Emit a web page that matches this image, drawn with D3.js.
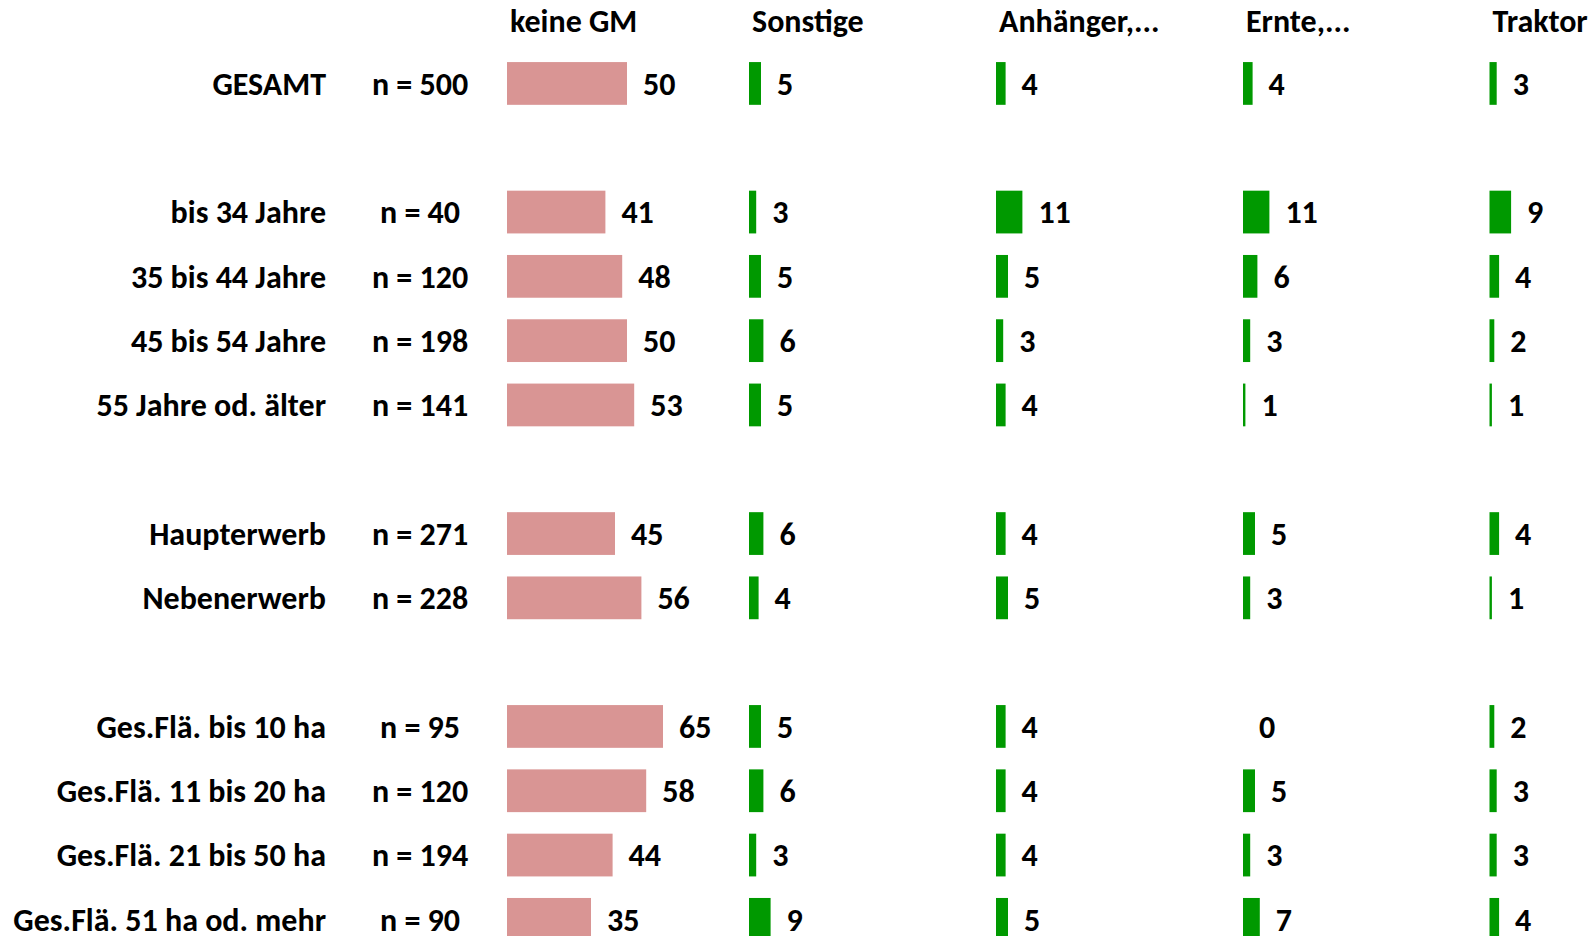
<!DOCTYPE html>
<html>
<head>
<meta charset="utf-8">
<script src="https://cdn.jsdelivr.net/npm/d3@7"></script>
<style>
  body { margin: 0; background: #fff; }
  svg text { font-family: Carlito, "Liberation Sans Narrow", "Open Sans", sans-serif; font-weight: bold; fill: #000; }
</style>
</head>
<body>
<svg id="chart"></svg>
<script>
// rows, sample sizes and the group each row belongs to (a blank row sits between groups)
const categories = ["GESAMT", "bis 34 Jahre", "35 bis 44 Jahre", "45 bis 54 Jahre", "55 Jahre od. älter",
  "Haupterwerb", "Nebenerwerb",
  "Ges.Flä. bis 10 ha", "Ges.Flä. 11 bis 20 ha", "Ges.Flä. 21 bis 50 ha", "Ges.Flä. 51 ha od. mehr"];
const sampleSizes = [500, 40, 120, 198, 141, 271, 228, 95, 120, 194, 90];
const groups = [0, 1, 1, 1, 1, 2, 2, 3, 3, 3, 3];

const seriesNames = ["keine GM", "Sonstige", "Anhänger,...", "Ernte,...", "Traktor"];
const keineGM  = [50, 41, 48, 50, 53, 45, 56, 65, 58, 44, 35];
const sonstige = [5, 3, 5, 6, 5, 6, 4, 5, 6, 3, 9];
const anhaenger = [4, 11, 5, 3, 4, 4, 5, 4, 4, 4, 5];
const ernte    = [4, 11, 6, 3, 1, 5, 3, 0, 5, 3, 7];
const traktor  = [3, 9, 4, 2, 1, 4, 1, 2, 3, 3, 4];
const seriesValues = [keineGM, sonstige, anhaenger, ernte, traktor];
const seriesColors = ["#d99594", "#009900", "#009900", "#009900", "#009900"];

const W = 1594, H = 936;
const svg = d3.select("#chart").attr("width", W).attr("height", H);

const slots = categories.map((c, i) => i + groups[i]);

const y = d3.scaleBand()
  .domain(d3.range(-1, 14))
  .range([-13, -13 + 15 * 64.3])
  .paddingInner(0.335)
  .paddingOuter(0.1675);

const colX = d3.scaleOrdinal()
  .domain(seriesNames)
  .range([507, 749, 996, 1243, 1489.5]);

const w = d3.scaleLinear().domain([0, 100]).range([0, 240]);

const fs = 32;
const mid = s => y(s) + y.bandwidth() / 2;

// column headers
svg.selectAll("text.header")
  .data(seriesNames)
  .join("text")
  .attr("class", "header")
  .attr("x", d => colX(d) + 3)
  .attr("y", mid(-1) + 2)
  .attr("dy", "0.35em")
  .style("font-size", fs + "px")
  .text(d => d);

// row labels
svg.selectAll("text.cat")
  .data(categories)
  .join("text")
  .attr("class", "cat")
  .attr("x", 326)
  .attr("y", (d, i) => mid(slots[i]))
  .attr("dy", "0.35em")
  .attr("text-anchor", "end")
  .style("font-size", fs + "px")
  .text(d => d);

svg.selectAll("text.n")
  .data(sampleSizes)
  .join("text")
  .attr("class", "n")
  .attr("x", 420)
  .attr("y", (d, i) => mid(slots[i]))
  .attr("dy", "0.35em")
  .attr("text-anchor", "middle")
  .style("font-size", fs + "px")
  .text(d => `n = ${d}`);

// one little bar chart per series
seriesNames.forEach((name, s) => {
  const g = svg.append("g").attr("transform", `translate(${colX(name)},0)`);
  const vals = seriesValues[s];

  g.selectAll("rect")
    .data(vals)
    .join("rect")
    .attr("x", 0)
    .attr("y", (d, i) => y(slots[i]))
    .attr("width", d => w(d))
    .attr("height", y.bandwidth())
    .attr("fill", seriesColors[s]);

  g.selectAll("text")
    .data(vals)
    .join("text")
    .attr("x", d => w(d) + 16)
    .attr("y", (d, i) => mid(slots[i]))
    .attr("dy", "0.35em")
    .style("font-size", fs + "px")
    .text(d => d);
});
</script>
</body>
</html>
